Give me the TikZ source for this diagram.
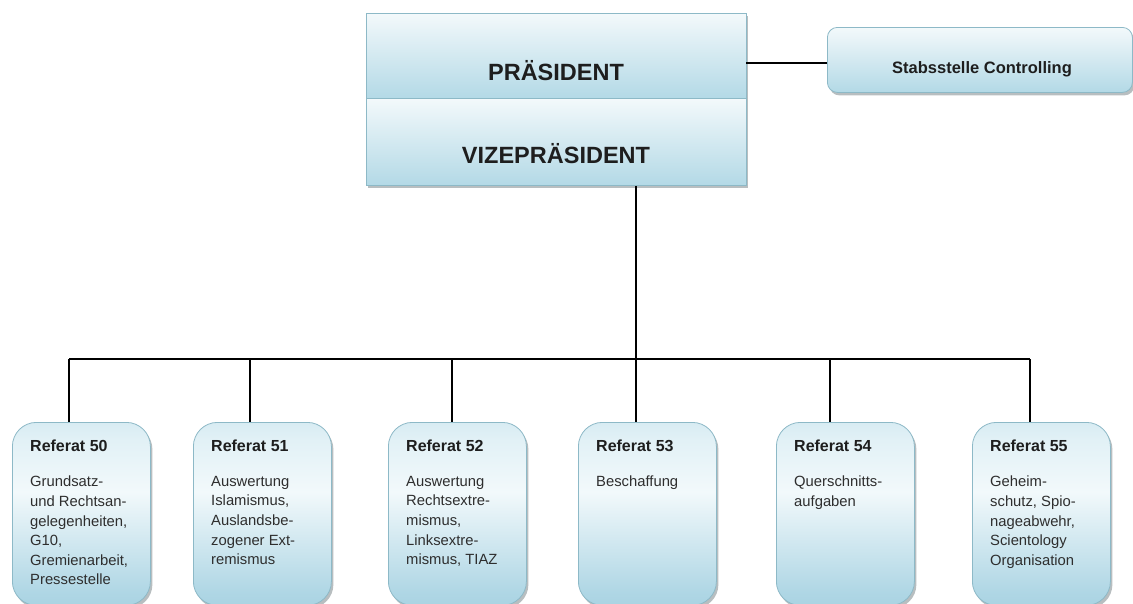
\documentclass[tikz,border=0pt]{standalone}
\usepackage{fontspec}
\setmainfont{Liberation Sans}
\usetikzlibrary{shadows,calc}
\definecolor{bord}{HTML}{8DB9C7}
\definecolor{fillTop}{HTML}{F3F9FB}
\definecolor{fillBot}{HTML}{B3D9E6}
\definecolor{shad}{HTML}{7F8A8E}
\definecolor{txt}{HTML}{1E1E1E}
\definecolor{bodytxt}{HTML}{2E2E2E}
\definecolor{rA}{HTML}{A9D3E2}
\definecolor{rB}{HTML}{B0D7E5}
\definecolor{rC}{HTML}{F2F9FB}
\definecolor{rD}{HTML}{E2F1F6}
\definecolor{rE}{HTML}{D8ECF3}
\pgfdeclareverticalshading{refshade}{100bp}{color(0bp)=(rA); color(25bp)=(rA); color(29bp)=(rB); color(56bp)=(rC); color(70bp)=(rD); color(75bp)=(rE); color(100bp)=(rE)}
\begin{document}
\begin{tikzpicture}[x=1pt,y=-1pt,
  topbox/.style={draw=bord, line width=0.8pt, top color=fillTop, bottom color=fillBot,
    inner sep=0pt, anchor=north west,
    drop shadow={shadow xshift=2pt, shadow yshift=-3pt, opacity=0.55, fill=shad}},
  stabbox/.style={topbox, rounded corners=10pt},
  refbox/.style={draw=bord, line width=0.8pt, shading=refshade, rounded corners=24pt,
    inner sep=0pt, anchor=north west, minimum width=138pt, minimum height=183pt,
    drop shadow={shadow xshift=2pt, shadow yshift=-3pt, opacity=0.55, fill=shad}},
  ttl/.style={font=\fontsize{23.5}{28}\selectfont\bfseries, text=txt, inner sep=0pt, anchor=base},
  stxt/.style={font=\fontsize{16.5}{20}\selectfont\bfseries, text=txt, inner sep=0pt, anchor=base},
  head/.style={font=\fontsize{16}{19}\selectfont\bfseries, text=txt, inner sep=0pt, anchor=base west},
  body/.style={font=\fontsize{14.8}{19.6}\selectfont, text=bodytxt, inner sep=0pt, anchor=north west, align=left},
  conn/.style={draw=black, line width=1.1pt}]
\useasboundingbox (0,0) rectangle (1133,603);
\fill[white] (0,0) rectangle (1133,603);
\clip (0,0) rectangle (1133,603);

% top boxes
\node[topbox, minimum width=380pt, minimum height=85pt] (pres) at (366,13) {};
\node[topbox, minimum width=380pt, minimum height=87pt] (vize) at (366,98) {};
\node[ttl] (tp) at (556,80) {PRÄSIDENT};
\node[ttl] (tv) at (556,163) {VIZEPRÄSIDENT};

\node[stabbox, minimum width=305pt, minimum height=65pt] (stab) at (827,27) {};
\node[stxt] (ts) at (982,73) {Stabsstelle Controlling};

% referat boxes
\node[refbox] (r50) at (12,422) {};
\node[refbox] (r51) at (193,422) {};
\node[refbox] (r52) at (388,422) {};
\node[refbox] (r53) at (578,422) {};
\node[refbox] (r54) at (776,422) {};
\node[refbox] (r55) at (972,422) {};

\node[head] (h50) at (30,451) {Referat 50};
\node[head] (h51) at (211,451) {Referat 51};
\node[head] (h52) at (406,451) {Referat 52};
\node[head] (h53) at (596,451) {Referat 53};
\node[head] (h54) at (794,451) {Referat 54};
\node[head] (h55) at (990,451) {Referat 55};

\node[body] (b50) at (30,476) {Grundsatz-\\und Rechtsan-\\gelegenheiten,\\G10,\\Gremienarbeit,\\Pressestelle};
\node[body] (b51) at (211,476) {Auswertung\\Islamismus,\\Auslandsbe-\\zogener Ext-\\remismus};
\node[body] (b52) at (406,476) {Auswertung\\Rechtsextre-\\mismus,\\Linksextre-\\mismus, TIAZ};
\node[body] (b53) at (596,476) {Beschaffung};
\node[body] (b54) at (794,476) {Querschnitts-\\aufgaben};
\node[body] (b55) at (990,476) {Geheim-\\schutz, Spio-\\nageabwehr,\\Scientology\\Organisation};

% connectors
\coordinate (sj) at (746,63);
\draw[conn] (sj) -- (sj -| stab.west);

\coordinate (x50) at (69,359);
\coordinate (x51) at (250,359);
\coordinate (x52) at (452,359);
\coordinate (x53) at (636,359);
\coordinate (x54) at (830,359);
\coordinate (x55) at (1030,359);

\draw[conn] (x53 |- vize.south) -- (x53 |- r53.north);
\draw[conn] (x50) -- (x55);
\draw[conn] (x50) -- (x50 |- r50.north);
\draw[conn] (x51) -- (x51 |- r51.north);
\draw[conn] (x52) -- (x52 |- r52.north);
\draw[conn] (x54) -- (x54 |- r54.north);
\draw[conn] (x55) -- (x55 |- r55.north);
\end{tikzpicture}
\end{document}
